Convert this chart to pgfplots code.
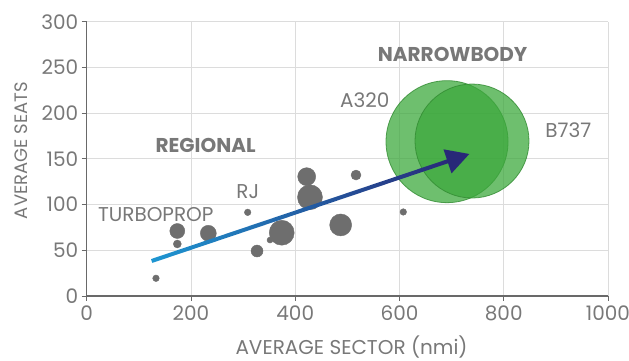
\documentclass[border=0pt]{standalone}
\usepackage{pgfplots}
\pgfplotsset{compat=1.18}
\usepackage{pgfplotstable}
\usepackage{fontspec}
\setmainfont{Poppins}
\usetikzlibrary{calc}
\definecolor{txt}{RGB}{120,120,120}
\definecolor{bub}{RGB}{110,110,110}
\definecolor{grn}{RGB}{60,168,60}
\definecolor{grnedge}{RGB}{50,140,50}
\definecolor{arrA}{RGB}{30,150,210}
\definecolor{arrB}{RGB}{40,40,120}
\definecolor{gridc}{RGB}{220,220,220}
\definecolor{axc}{RGB}{105,105,105}
\newcommand{\fs}{\fontsize{20}{24}\selectfont}

\pgfplotstableread{
x y r
132.9 19.4 3.3
173.8 71.1 7.5
173.8 56.9 4
233.3 68.6 8
308.8 91.5 3.3
326.7 49.2 6
351.6 61.2 3
374.1 69.2 12.5
422.0 130.5 9
428.3 108.0 12.5
487.2 77.7 11
516.6 132.3 5
607.3 91.9 3.3
}\bubbles

\pgfplotstableread{
x y r
691.2 168.8 61
739.1 169.5 57
}\narrow

\begin{document}
\begin{tikzpicture}
\begin{axis}[
  scale only axis, width=521.3pt, height=274.3pt,
  xmin=0, xmax=1000, ymin=0, ymax=300,
  xtick={0,200,...,1000}, ytick={0,50,...,300},
  axis lines=left, axis line style={-, draw=axc, line width=1.2pt},
  grid=major, major grid style={draw=gridc, line width=0.9pt},
  tick style={draw=axc, line width=0.8pt}, tick align=outside, major tick length=5pt,
  ticklabel style={font=\fs, text=txt},
  xticklabel style={yshift=-1.5pt},
  /pgf/number format/assume math mode=true,
  /pgf/number format/1000 sep={},
  xlabel={AVERAGE SECTOR (nmi)}, ylabel={AVERAGE SEATS},
  xlabel style={font=\fs, text=txt, at={(axis description cs:0.508,-0.215)}, anchor=base},
  ylabel style={font=\fontsize{18}{21}\selectfont, text=txt, at={(axis description cs:-0.125,0.53)}, anchor=center},
  clip=false,
]
\addplot[scatter, only marks, mark=*,
  scatter/use mapped color={draw=bub, fill=bub},
  visualization depends on={\thisrow{r}\as\rad},
  scatter/@pre marker code/.append style={/tikz/mark size=\rad}]
  table[x=x, y=y] {\bubbles};
\addplot[scatter, only marks, mark=*,
  scatter/use mapped color={draw=grnedge, fill=grn},
  mark options={fill opacity=0.74, draw opacity=0.8, line width=0.8pt},
  visualization depends on={\thisrow{r}\as\rad},
  scatter/@pre marker code/.append style={/tikz/mark size=\rad}]
  table[x=x, y=y] {\narrow};
\node[font=\fs\bfseries, text=txt] at (axis cs:228,165) {REGIONAL};
\node[font=\fs\bfseries, text=txt] at (axis cs:702,263.7) {NARROWBODY};
\node[font=\fs, text=txt] at (axis cs:533.6,214.4) {A320};
\node[font=\fs, text=txt] at (axis cs:924,181.6) {B737};
\node[font=\fs, text=txt] at (axis cs:309,114) {RJ};
\node[font=\fs, text=txt] at (axis cs:132.5,89) {TURBOPROP};
\coordinate (O) at (rel axis cs:0,0);
\coordinate (S) at (axis cs:124.6,38.3);
\coordinate (T) at (axis cs:733.9,155.3);
\end{axis}
\coordinate (B) at ($(T)!23pt!(S)$);
\coordinate (Bs) at ($(T)!20pt!(S)$);
\shade[left color=arrA, right color=arrB]
  ($(S)!2pt!90:(T)$) -- ($(Bs)!2pt!-90:(S)$) -- ($(Bs)!2pt!90:(S)$) -- ($(S)!2pt!-90:(T)$) -- cycle;
\fill[arrB] (T) -- ($(B)!12.7pt!90:(S)$) -- ($(B)!12.7pt!-90:(S)$) -- cycle;
\pgfresetboundingbox
\path ($(O)+(-86.7pt,-65pt)$) rectangle ($(O)+(542.3pt,296pt)$);
\end{tikzpicture}
\end{document}
